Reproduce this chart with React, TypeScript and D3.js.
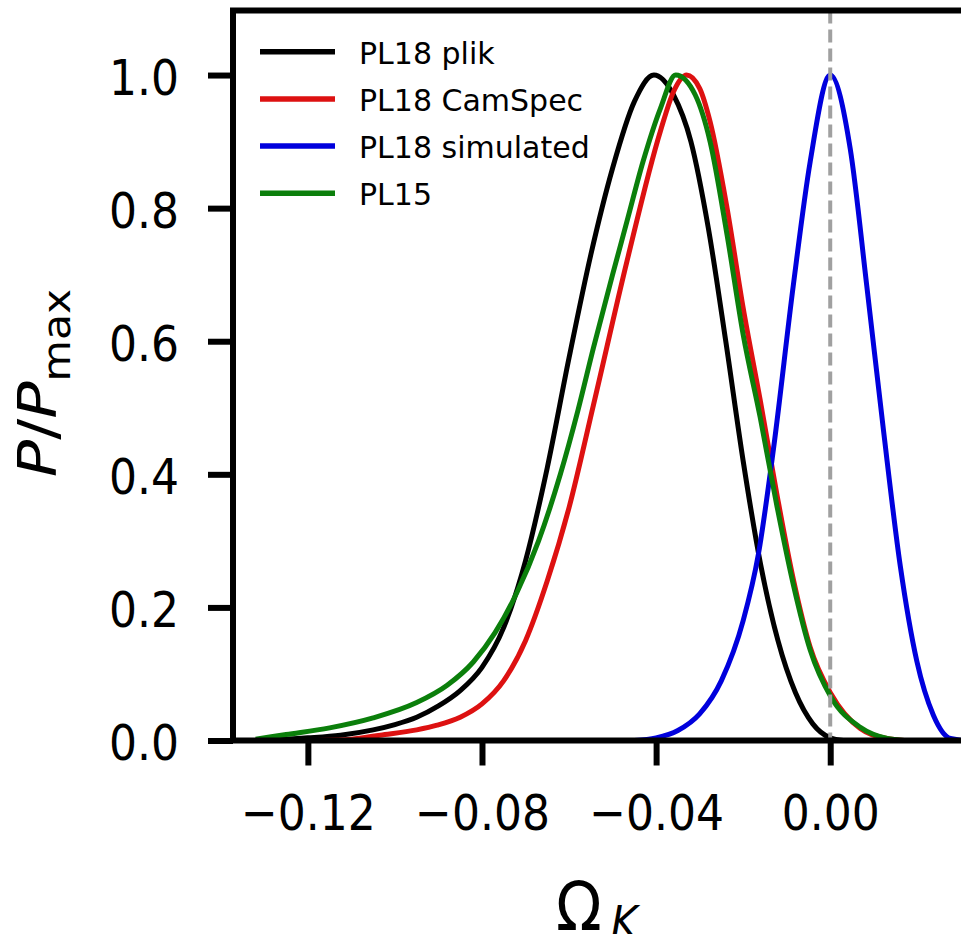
import React, { useRef, useEffect } from 'react';
import * as d3 from 'd3';

// axis ticks
const xTicks = [-0.12, -0.08, -0.04, 0.0];
const xTickLabels = ['\u22120.12', '\u22120.08', '\u22120.04', '0.00'];
const yTicks = [0, 0.2, 0.4, 0.6, 0.8, 1.0];
const yTickLabels = ['0.0', '0.2', '0.4', '0.6', '0.8', '1.0'];

// PL18 plik
const plikOmega = [-0.128, -0.12, -0.1125, -0.105, -0.1, -0.095, -0.09, -0.085, -0.08, -0.075, -0.07, -0.065, -0.06, -0.055, -0.05, -0.045, -0.0405, -0.036, -0.032, -0.028, -0.024, -0.02, -0.016, -0.012, -0.008, -0.004, 0.0, 0.003];
const plikP = [0.001, 0.004, 0.008, 0.016, 0.024, 0.035, 0.052, 0.075, 0.11, 0.17, 0.27, 0.41, 0.575, 0.73, 0.86, 0.96, 1.0, 0.97, 0.9, 0.77, 0.6, 0.42, 0.265, 0.15, 0.072, 0.025, 0.004, 0.0];

// PL18 CamSpec
const camspecOmega = [-0.118, -0.11, -0.1034, -0.095, -0.0903, -0.085, -0.08, -0.075, -0.07, -0.065, -0.06, -0.0544, -0.0467, -0.039, -0.036, -0.033, -0.03, -0.0276, -0.0237, -0.02, -0.0161, -0.0122, -0.0085, -0.0046, 0.0002, 0.0069, 0.013, 0.017];
const camspecP = [0.0, 0.002, 0.008, 0.016, 0.023, 0.035, 0.055, 0.09, 0.15, 0.24, 0.35, 0.504, 0.72, 0.916, 0.975, 1.0, 0.98, 0.93, 0.8, 0.65, 0.512, 0.368, 0.243, 0.14, 0.07, 0.018, 0.003, 0.0];

// PL18 simulated
const simOmega = [-0.045, -0.04, -0.035, -0.03, -0.025, -0.02, -0.0165, -0.013, -0.0085, -0.0046, 0.0, 0.0046, 0.0084, 0.0122, 0.0161, 0.0199, 0.0237, 0.0276, 0.031];
const simP = [0.0, 0.004, 0.015, 0.04, 0.09, 0.18, 0.28, 0.44, 0.683, 0.87, 1.0, 0.889, 0.683, 0.468, 0.262, 0.119, 0.038, 0.003, 0.0];

// PL15
const pl15Omega = [-0.132, -0.125, -0.115, -0.105, -0.095, -0.088, -0.082, -0.077, -0.072, -0.067, -0.062, -0.058, -0.0544, -0.05, -0.0467, -0.043, -0.039, -0.0355, -0.031, -0.0276, -0.0237, -0.02, -0.0161, -0.0122, -0.0085, -0.0046, 0.0002, 0.0069, 0.0131, 0.017];
const pl15P = [0.002, 0.009, 0.019, 0.034, 0.057, 0.083, 0.118, 0.162, 0.222, 0.3, 0.4, 0.495, 0.59, 0.7, 0.78, 0.87, 0.95, 1.0, 0.97, 0.9, 0.76, 0.61, 0.486, 0.351, 0.235, 0.136, 0.065, 0.02, 0.003, 0.0];

const seriesNames = ['PL18 plik', 'PL18 CamSpec', 'PL18 simulated', 'PL15'];
const seriesColors = ['#000000', '#dd1111', '#0000dd', '#0b7f0b'];

const WIDTH = 961;
const HEIGHT = 934;

const App = () => {
  const svgRef = useRef<SVGSVGElement | null>(null);

  useEffect(() => {
    if (!svgRef.current) return;
    const svg = d3.select(svgRef.current);
    svg.selectAll('*').remove();

    // plot box (right spine sits just past the picture edge)
    const left = 233, right = 973, top = 10.5, bottom = 740.5;

    const x = d3.scaleLinear().domain([-0.1372, 0.0328]).range([left, right]);
    const y = d3.scaleLinear().domain([0, 1.097]).range([bottom, top]);

    svg.append('rect').attr('width', WIDTH).attr('height', HEIGHT).attr('fill', '#fff');

    const line = d3.line<[number, number]>()
      .x(d => x(d[0]))
      .y(d => y(d[1]))
      .curve(d3.curveMonotoneX);

    const series = [
      d3.zip(plikOmega, plikP),
      d3.zip(camspecOmega, camspecP),
      d3.zip(simOmega, simP),
      d3.zip(pl15Omega, pl15P),
    ] as [number, number][][];

    series.forEach((s, i) => {
      svg.append('path')
        .datum(s)
        .attr('d', line)
        .attr('fill', 'none')
        .attr('stroke', seriesColors[i])
        .attr('stroke-width', 5)
        .attr('stroke-linejoin', 'round');
    });

    // vertical dashed line at zero
    svg.append('line')
      .attr('x1', x(0)).attr('x2', x(0))
      .attr('y1', top).attr('y2', bottom)
      .attr('stroke', '#a0a0a0')
      .attr('stroke-width', 4)
      .attr('stroke-dasharray', '13 6');

    // spines
    svg.append('rect')
      .attr('x', left).attr('y', top)
      .attr('width', right - left).attr('height', bottom - top)
      .attr('fill', 'none')
      .attr('stroke', '#000')
      .attr('stroke-width', 6);

    const squeeze = 0.88;

    // y axis
    const gy = svg.append('g')
      .attr('transform', `translate(${left},0)`)
      .call(d3.axisLeft(y).tickValues(yTicks).tickFormat((d, i) => yTickLabels[i]).tickSize(25));
    gy.select('.domain').remove();
    gy.selectAll('.tick line').attr('stroke', '#000').attr('stroke-width', 6);
    gy.selectAll('.tick text')
      .attr('font-family', 'DejaVu Sans')
      .attr('font-size', 50)
      .attr('fill', '#000')
      .attr('dy', null)
      .attr('x', -54 / squeeze)
      .attr('y', 19)
      .attr('transform', `scale(${squeeze},1)`);

    // x axis
    const gx = svg.append('g')
      .attr('transform', `translate(0,${bottom})`)
      .call(d3.axisBottom(x).tickValues(xTicks).tickFormat((d, i) => xTickLabels[i]).tickSize(25));
    gx.select('.domain').remove();
    gx.selectAll('.tick line').attr('stroke', '#000').attr('stroke-width', 6);
    gx.selectAll('.tick text')
      .attr('font-family', 'DejaVu Sans')
      .attr('font-size', 50)
      .attr('fill', '#000')
      .attr('dy', null)
      .attr('y', 89.5)
      .attr('transform', `scale(${squeeze},1)`);

    // legend
    const legend = svg.append('g').attr('font-family', 'DejaVu Sans').attr('font-size', 30);
    seriesNames.forEach((name, i) => {
      const ly = 51.7 + i * 47.2;
      legend.append('line')
        .attr('x1', 260).attr('x2', 335)
        .attr('y1', ly).attr('y2', ly)
        .attr('stroke', seriesColors[i])
        .attr('stroke-width', 5.5);
      legend.append('text')
        .attr('x', 359).attr('y', ly + 12)
        .attr('fill', '#000')
        .text(name);
    });

    // y label  P/P_max
    const yl = svg.append('text')
      .attr('font-family', 'DejaVu Sans')
      .attr('font-size', 54)
      .attr('fill', '#000')
      .attr('text-anchor', 'middle')
      .attr('transform', 'translate(56,383) rotate(-90) scale(1.15,1)');
    yl.append('tspan').attr('font-style', 'italic').text('P');
    yl.append('tspan').text('/');
    yl.append('tspan').attr('font-style', 'italic').text('P');
    yl.append('tspan').attr('font-size', 37).attr('dy', 14).text('max');

    // x label  Omega_K
    svg.append('text')
      .attr('font-family', 'DejaVu Sans')
      .attr('font-size', 68)
      .attr('fill', '#000')
      .attr('transform', 'translate(556,930) scale(0.88,1)')
      .text('\u03A9');
    svg.append('text')
      .attr('font-family', 'DejaVu Sans')
      .attr('font-size', 45)
      .attr('font-style', 'italic')
      .attr('fill', '#000')
      .attr('transform', 'translate(611,938) scale(0.9,1)')
      .text('K');
  }, []);

  return (
    <svg
      ref={svgRef}
      width={WIDTH}
      height={HEIGHT}
      style={{ position: 'absolute', left: 0, top: 0, display: 'block' }}
    />
  );
};

export default App;
